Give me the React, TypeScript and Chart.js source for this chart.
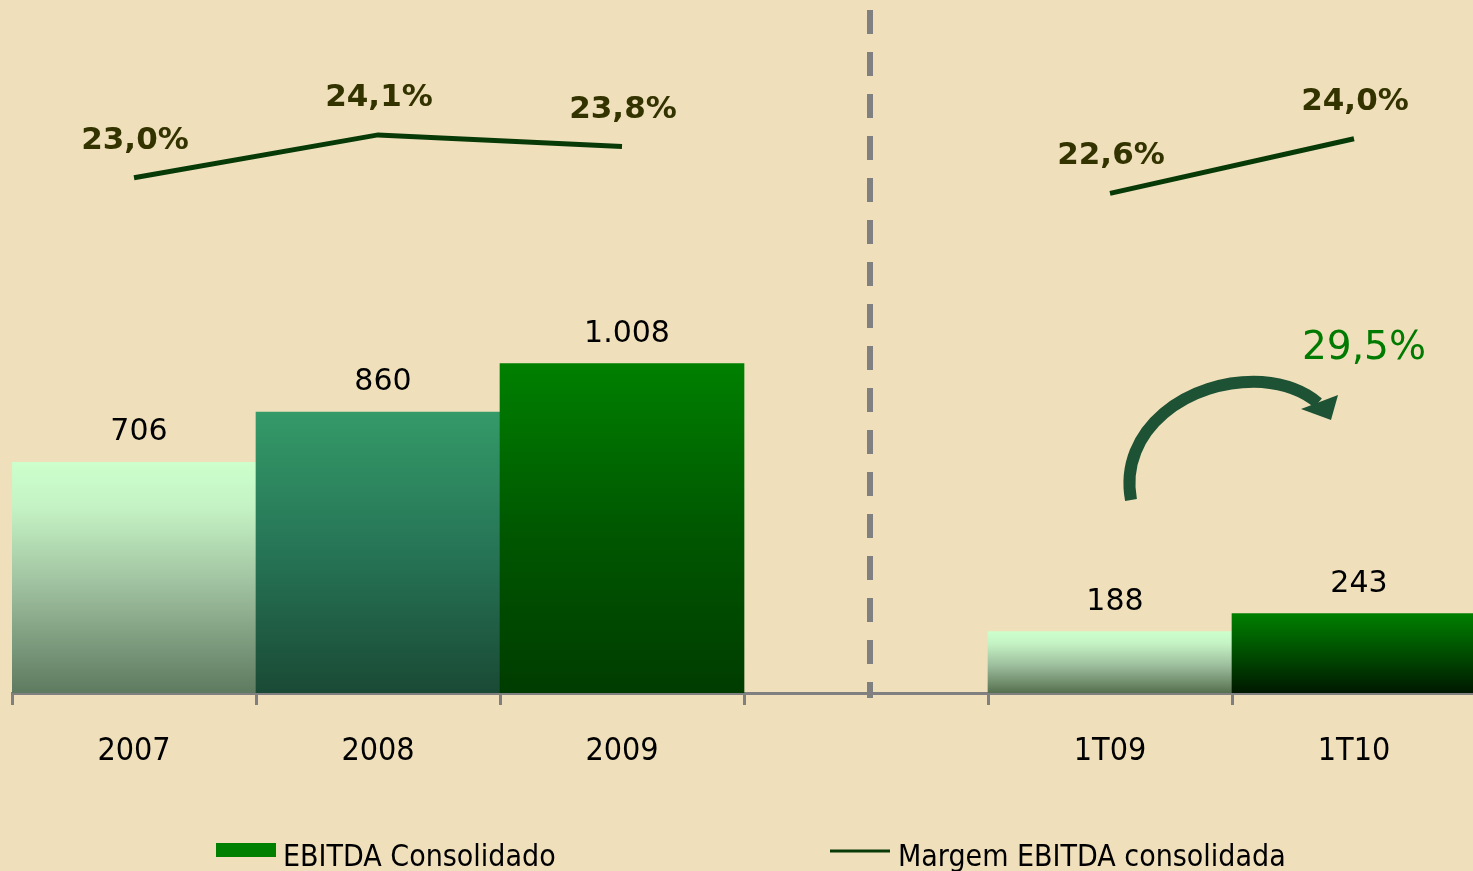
import React, { useEffect, useRef } from 'react';
import { Chart, registerables } from 'chart.js';

Chart.register(...registerables);

const categories = ['2007', '2008', '2009', '', '1T09', '1T10'];
const ebitdaValues = [706, 860, 1008, null, 188, 243];
const ebitdaLabels = ['706', '860', '1.008', '', '188', '243'];
const marginValues = [23.0, 24.1, 23.8, null, 22.6, 24.0];
const marginLabels = ['23,0%', '24,1%', '23,8%', '', '22,6%', '24,0%'];
const growthLabel = '29,5%';
const seriesNames = ['EBITDA Consolidado', 'Margem EBITDA consolidada'];

const barStops: Array<Array<[number, string]>> = [
  [[0, '#CCFFCC'], [0.2, '#C4F2C4'], [0.55, '#9DBE9D'], [1, '#5E7A60']],
  [[0, '#349A68'], [0.5, '#267456'], [1, '#1A4A35']],
  [[0, '#008000'], [0.5, '#005800'], [1, '#003C00']],
  [[0, '#008000'], [1, '#008000']],
  [[0, '#CCFFCC'], [0.2, '#C4F2C4'], [0.55, '#9DBE9D'], [1, '#56704F']],
  [[0, '#008000'], [0.45, '#005200'], [1, '#001800']],
];

const BG = '#EFDFBB';
const LINE_COLOR = '#083A08';
const AXIS_GRAY = '#808080';

const backgroundPlugin = {
  id: 'bg',
  beforeDraw(chart: any) {
    const { ctx, width, height } = chart;
    ctx.save();
    ctx.fillStyle = BG;
    ctx.fillRect(0, 0, width, height);
    ctx.restore();
  },
};

const separatorPlugin = {
  id: 'separator',
  beforeDatasetsDraw(chart: any) {
    const { ctx, chartArea } = chart;
    const x = chart.scales.x.getPixelForValue(3);
    ctx.save();
    ctx.strokeStyle = AXIS_GRAY;
    ctx.lineWidth = 6;
    ctx.setLineDash([24, 18]);
    ctx.beginPath();
    ctx.moveTo(x + 4, chartArea.top);
    ctx.lineTo(x + 4, chartArea.bottom + 5);
    ctx.stroke();
    ctx.restore();
  },
};

const labelsPlugin = {
  id: 'valueLabels',
  afterDatasetsDraw(chart: any) {
    const { ctx } = chart;
    ctx.save();
    ctx.textAlign = 'center';
    ctx.textBaseline = 'alphabetic';
    const barMeta = chart.getDatasetMeta(0);
    ctx.fillStyle = '#000000';
    ctx.font = '30px "DejaVu Sans"';
    barMeta.data.forEach((el: any, i: number) => {
      if (ebitdaValues[i] == null) return;
      ctx.fillText(ebitdaLabels[i], el.x + 5, el.y - 22);
    });
    const lineMeta = chart.getDatasetMeta(1);
    ctx.fillStyle = '#333300';
    ctx.font = 'bold 31px "DejaVu Sans"';
    lineMeta.data.forEach((el: any, i: number) => {
      if (marginValues[i] == null) return;
      ctx.fillText(marginLabels[i], el.x + 1, el.y - 29);
    });

    // growth annotation between 1T09 and 1T10
    const xs = chart.scales.x;
    const x0 = xs.getPixelForValue(4);
    const x1 = xs.getPixelForValue(5);
    const ys = chart.scales.y;
    const yRef = ys.getPixelForValue(0);
    ctx.fillStyle = '#007A00';
    ctx.font = '39px "DejaVu Sans"';
    ctx.fillText(growthLabel, x1 + 10, yRef - 334);

    // curved arrow
    const ax = (dx: number) => x0 + dx;
    const ay = (dy: number) => yRef - dy;
    ctx.strokeStyle = '#1E5234';
    ctx.fillStyle = '#1E5234';
    ctx.lineWidth = 12;
    ctx.lineCap = 'butt';
    ctx.beginPath();
    ctx.moveTo(ax(21), ay(193));
    ctx.bezierCurveTo(ax(8), ay(263), ax(78), ay(315), ax(152), ay(311));
    ctx.bezierCurveTo(ax(176), ay(309), ax(194), ay(302), ax(208), ay(290));
    ctx.stroke();
    ctx.beginPath();
    ctx.moveTo(ax(191), ay(284));
    ctx.lineTo(ax(228), ay(298));
    ctx.lineTo(ax(221), ay(273));
    ctx.closePath();
    ctx.fill();
    ctx.restore();
  },
};

const legendPlugin = {
  id: 'customLegend',
  afterDraw(chart: any) {
    const { ctx } = chart;
    ctx.save();
    ctx.fillStyle = '#008000';
    ctx.fillRect(216, 843, 60, 14);
    ctx.strokeStyle = LINE_COLOR;
    ctx.lineWidth = 3;
    ctx.beginPath();
    ctx.moveTo(830, 851);
    ctx.lineTo(890, 851);
    ctx.stroke();
    ctx.fillStyle = '#000000';
    ctx.font = '30px "DejaVu Sans Condensed"';
    ctx.textAlign = 'left';
    ctx.textBaseline = 'alphabetic';
    ctx.fillText(seriesNames[0], 283, 866);
    ctx.fillText(seriesNames[1], 898, 866);
    ctx.restore();
  },
};

export default function App() {
  const canvasRef = useRef<HTMLCanvasElement | null>(null);

  useEffect(() => {
    const canvas = canvasRef.current;
    if (!canvas) return;
    const chart = new Chart(canvas, {
      type: 'bar',
      data: {
        labels: categories,
        datasets: [
          {
            type: 'bar',
            label: seriesNames[0],
            data: ebitdaValues as any,
            yAxisID: 'y',
            order: 2,
            barPercentage: 1,
            categoryPercentage: 1,
            borderWidth: 0,
            backgroundColor: (c: any) => {
              const chart = c.chart;
              if (c.type !== 'data' || !chart.chartArea) return '#008000';
              const i = c.dataIndex;
              const v = ebitdaValues[i];
              if (v == null) return 'rgba(0,0,0,0)';
              const ys = chart.scales.y;
              const top = ys.getPixelForValue(v);
              const base = ys.getPixelForValue(0);
              const g = chart.ctx.createLinearGradient(0, top, 0, base);
              barStops[i].forEach(([o, col]) => g.addColorStop(o, col));
              return g;
            },
          } as any,
          {
            type: 'line',
            label: seriesNames[1],
            data: marginValues as any,
            yAxisID: 'y2',
            order: 1,
            borderColor: LINE_COLOR,
            borderWidth: 5,
            pointRadius: 0,
            spanGaps: false,
            fill: false,
            tension: 0,
          } as any,
        ],
      },
      options: {
        responsive: false,
        animation: false,
        layout: { padding: { left: 12, right: 0, top: 10, bottom: 0 } },
        plugins: {
          legend: { display: false },
          tooltip: { enabled: false },
        },
        scales: {
          x: {
            offset: true,
            grid: {
              display: true,
              offset: true,
              drawOnChartArea: false,
              drawTicks: true,
              tickLength: 12,
              color: AXIS_GRAY,
              lineWidth: 3,
            },
            border: { display: true, color: AXIS_GRAY, width: 3 },
            ticks: {
              color: '#000000',
              font: { family: '"DejaVu Sans Condensed"', size: 32 },
              padding: 27,
              maxRotation: 0,
              autoSkip: false,
            },
            afterFit: (s: any) => {
              s.height = 178;
            },
          },
          y: { display: false, min: 0, max: 2090 },
          y2: { display: false, min: 9.8, max: 27.3, position: 'right' },
        },
      },
      plugins: [backgroundPlugin, separatorPlugin, labelsPlugin, legendPlugin],
    });
    return () => chart.destroy();
  }, []);

  return (
    <div
      style={{
        position: 'absolute',
        left: 0,
        top: 0,
        width: 1473,
        height: 871,
        overflow: 'hidden',
        background: BG,
      }}
    >
      <canvas ref={canvasRef} width={1476} height={871} style={{ display: 'block' }} />
    </div>
  );
}
